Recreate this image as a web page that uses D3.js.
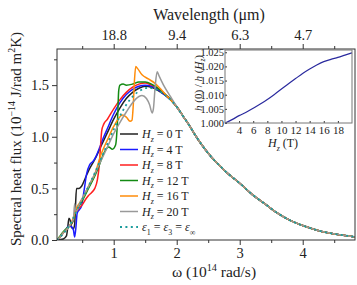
<!DOCTYPE html>
<html>
<head>
<meta charset="utf-8">
<script src="https://cdn.jsdelivr.net/npm/d3@7"></script>
<style>
body { margin: 0; background: #fff; }
svg { display: block; font-family: "Liberation Serif", "Times New Roman", Times, "DejaVu Serif", serif; }
text { fill: #222; white-space: pre; }
</style>
</head>
<body>
<div id="chart"></div>
<script>
// ---- data ----
// omega in 1e14 rad/s, flux in 1e-14 J/rad m^2 K
// shared tail, all curves coincide above omega ~2
const tailOmega = [2.0, 2.1, 2.2, 2.3, 2.4, 2.5, 2.6, 2.7, 2.8, 2.9, 3.0, 3.2, 3.4, 3.6, 3.8, 4.0, 4.2, 4.4, 4.6, 4.83];
const tailFlux  = [1.29, 1.20, 1.11, 1.01, 0.92, 0.84, 0.77, 0.71, 0.65, 0.60, 0.55, 0.44, 0.35, 0.26, 0.19, 0.14, 0.10, 0.07, 0.05, 0.03];

const omega0T = [0.10, 0.20, 0.25, 0.27, 0.29, 0.31, 0.33, 0.36, 0.38, 0.395, 0.41, 0.45, 0.49, 0.55, 0.60, 0.70, 0.80, 0.90, 1.00, 1.10, 1.20, 1.30, 1.40, 1.50, 1.60, 1.70, 1.80, 1.90];
const flux0T  = [0.00, 0.01, 0.04, 0.12, 0.21, 0.19, 0.12, 0.11, 0.15, 0.35, 0.50, 0.50, 0.52, 0.60, 0.67, 0.78, 0.91, 1.04, 1.17, 1.28, 1.37, 1.43, 1.47, 1.49, 1.48, 1.45, 1.41, 1.36];

const omega4T = [0.10, 0.15, 0.20, 0.25, 0.29, 0.33, 0.36, 0.38, 0.40, 0.42, 0.45, 0.49, 0.53, 0.57, 0.62, 0.67, 0.72, 0.78, 0.83, 0.90, 1.00, 1.10, 1.20, 1.30, 1.40, 1.50, 1.60, 1.70, 1.80, 1.90];
const flux4T  = [0.00, 0.03, 0.07, 0.11, 0.14, 0.13, 0.10, 0.03, 0.12, 0.26, 0.29, 0.33, 0.48, 0.64, 0.73, 0.76, 0.81, 0.90, 0.98, 1.08, 1.22, 1.33, 1.41, 1.46, 1.49, 1.50, 1.49, 1.46, 1.41, 1.36];

const omega8T = [0.10, 0.15, 0.20, 0.25, 0.30, 0.34, 0.37, 0.39, 0.41, 0.45, 0.50, 0.55, 0.60, 0.65, 0.70, 0.74, 0.77, 0.79, 0.81, 0.84, 0.90, 1.00, 1.10, 1.20, 1.30, 1.40, 1.50, 1.60, 1.70, 1.80, 1.90];
const flux8T  = [0.00, 0.03, 0.07, 0.10, 0.14, 0.16, 0.22, 0.30, 0.28, 0.31, 0.34, 0.39, 0.43, 0.46, 0.50, 0.58, 0.72, 0.90, 1.06, 1.12, 1.17, 1.27, 1.36, 1.43, 1.48, 1.51, 1.52, 1.50, 1.47, 1.42, 1.36];

const omega12T = [0.10, 0.15, 0.20, 0.25, 0.30, 0.35, 0.38, 0.40, 0.45, 0.50, 0.60, 0.70, 0.78, 0.85, 0.92, 0.98, 1.03, 1.06, 1.08, 1.10, 1.15, 1.20, 1.30, 1.40, 1.50, 1.60, 1.70, 1.80, 1.90];
const flux12T  = [0.00, 0.04, 0.08, 0.11, 0.14, 0.18, 0.24, 0.28, 0.33, 0.38, 0.50, 0.62, 0.74, 0.85, 0.90, 0.88, 0.92, 1.15, 1.45, 1.50, 1.51, 1.50, 1.51, 1.53, 1.53, 1.51, 1.47, 1.42, 1.36];

const omega16T = [0.10, 0.15, 0.20, 0.25, 0.30, 0.35, 0.38, 0.40, 0.45, 0.50, 0.60, 0.70, 0.80, 0.90, 1.00, 1.08, 1.14, 1.20, 1.26, 1.29, 1.31, 1.33, 1.35, 1.38, 1.45, 1.55, 1.65, 1.75, 1.85, 1.90];
const flux16T  = [0.00, 0.03, 0.07, 0.10, 0.14, 0.20, 0.26, 0.30, 0.35, 0.40, 0.52, 0.64, 0.83, 0.97, 1.10, 1.18, 1.21, 1.19, 1.15, 1.16, 1.30, 1.55, 1.68, 1.66, 1.60, 1.56, 1.52, 1.46, 1.39, 1.36];

const omega20T = [0.10, 0.15, 0.20, 0.25, 0.30, 0.34, 0.36, 0.38, 0.39, 0.41, 0.45, 0.50, 0.60, 0.70, 0.80, 0.90, 1.00, 1.10, 1.20, 1.30, 1.40, 1.45, 1.52, 1.57, 1.61, 1.63, 1.66, 1.69, 1.72, 1.80, 1.90];
const flux20T  = [0.00, 0.03, 0.07, 0.10, 0.14, 0.18, 0.20, 0.35, 0.30, 0.28, 0.34, 0.40, 0.52, 0.64, 0.77, 0.90, 1.03, 1.14, 1.24, 1.33, 1.39, 1.40, 1.37, 1.31, 1.23, 1.27, 1.50, 1.63, 1.59, 1.49, 1.39];

const omegaInf = [0.10, 0.15, 0.20, 0.25, 0.30, 0.35, 0.40, 0.50, 0.60, 0.70, 0.80, 0.90, 1.00, 1.10, 1.20, 1.30, 1.40, 1.50, 1.55, 1.60, 1.70, 1.80, 1.90];
const fluxInf  = [0.00, 0.03, 0.06, 0.10, 0.14, 0.20, 0.27, 0.39, 0.52, 0.65, 0.79, 0.93, 1.07, 1.20, 1.31, 1.39, 1.44, 1.47, 1.475, 1.47, 1.45, 1.41, 1.36];

const fieldLabels = ["0", "4", "8", "12", "16", "20"];

// axis ticks
const omegaTicks = [1, 2, 3, 4];
const omegaMinor = [0.5, 1.5, 2.5, 3.5, 4.5];
const wavelengthLabels = ["18.8", "9.4", "6.3", "4.7"];
const fluxTicks = [0, 0.5, 1.0, 1.5];
const fluxMinor = [0.25, 0.75, 1.25, 1.75];

// inset: h(0)/h(Hz) vs Hz
const insetField = [2, 3, 4, 5, 6, 7, 8, 9, 10, 11, 12, 13, 14, 15, 16, 17, 18, 19, 20];
const insetRatio = [1.0000, 1.0012, 1.0026, 1.0038, 1.0052, 1.0067, 1.0083, 1.0101, 1.0120, 1.0139, 1.0157, 1.0175, 1.0191, 1.0205, 1.0217, 1.0225, 1.0232, 1.0240, 1.0248];
const insetXTicks = [4, 6, 8, 10, 12, 14, 16, 18];
const insetYTicks = [1.000, 1.005, 1.010, 1.015, 1.020, 1.025];

// ---- layout ----
const serif = "'Liberation Serif', 'Times New Roman', Times, 'DejaVu Serif', serif";
const svgWidth = 357,
    svgHeight = 285,
    margin = { top: 49, right: 2, bottom: 45, left: 57 },
    width = svgWidth - margin.left - margin.right,
    height = svgHeight - margin.top - margin.bottom;

const svg = d3.select("#chart").append("svg")
    .attr("width", svgWidth)
    .attr("height", svgHeight)
    .attr("font-family", serif);

const g = svg.append("g")
    .attr("transform", `translate(${margin.left},${margin.top})`);

const x = d3.scaleLinear().domain([0.1, 4.83]).range([0, width]);
const y = d3.scaleLinear().domain([0, 1.85]).range([height, 0]);

// writes text with italic / sub / superscript parts
function rich(sel, parts, size) {
    let shift = 0;
    sel.attr("font-family", serif);
    parts.forEach((p) => {
        let target = p.sub ? size * 0.3 : (p.sup ? -size * 0.4 : 0);
        sel.append("tspan")
            .attr("dy", target - shift)
            .attr("font-size", (p.sub || p.sup) ? size * 0.66 : size)
            .attr("font-style", p.i ? "italic" : null)
            .text(p.t);
        shift = target;
    });
}

function styleAxis(sel, size) {
    sel.attr("font-family", serif).attr("font-size", size);
    sel.select(".domain").remove();
    sel.selectAll("line").attr("stroke", "#333");
    sel.selectAll("text")
        .attr("font-family", serif)
        .attr("font-size", size)
        .attr("fill", "#222");
}

// axes
const xAxis = g.append("g")
    .attr("transform", `translate(0,${height})`)
    .call(d3.axisBottom(x).tickValues(omegaTicks).tickFormat(d3.format("d")).tickSize(5).tickPadding(3));
styleAxis(xAxis, 14.5);
g.append("g")
    .attr("transform", `translate(0,${height})`)
    .call(d3.axisBottom(x).tickValues(omegaMinor).tickFormat("").tickSize(3))
    .call(styleAxis, 10);

const topAxis = g.append("g")
    .call(d3.axisTop(x).tickValues(omegaTicks).tickFormat((d, i) => wavelengthLabels[i]).tickSize(5).tickPadding(4));
styleAxis(topAxis, 14.5);
g.append("g")
    .call(d3.axisTop(x).tickValues(omegaMinor).tickFormat("").tickSize(3))
    .call(styleAxis, 10);

const yAxis = g.append("g")
    .call(d3.axisLeft(y).tickValues(fluxTicks).tickFormat(d3.format(".1f")).tickSize(5).tickPadding(3));
styleAxis(yAxis, 14.5);
g.append("g")
    .call(d3.axisLeft(y).tickValues(fluxMinor).tickFormat("").tickSize(3))
    .call(styleAxis, 10);

// axis titles
rich(svg.append("text")
    .attr("x", 209).attr("y", 20)
    .attr("text-anchor", "middle"),
    [{ t: "Wavelength (μm)" }], 16);

rich(svg.append("text")
    .attr("x", 214).attr("y", 277)
    .attr("text-anchor", "middle"),
    [{ t: "ω (10" }, { t: "14", sup: 1 }, { t: " rad/s)" }], 15.5);

rich(svg.append("text")
    .attr("transform", "translate(21,139) rotate(-90)")
    .attr("text-anchor", "middle"),
    [{ t: "Spectral heat flux (10" }, { t: "−14", sup: 1 }, { t: " J/rad m" }, { t: "2", sup: 1 }, { t: "K)" }], 15);

// curves
svg.append("defs").append("clipPath").attr("id", "plotClip")
    .append("rect").attr("width", width).attr("height", height);

const series = [
    { o: omega0T, f: flux0T, color: "#222222" },
    { o: omega4T, f: flux4T, color: "#1a1aff" },
    { o: omega8T, f: flux8T, color: "#ff1f1f" },
    { o: omega12T, f: flux12T, color: "#138a13" },
    { o: omega16T, f: flux16T, color: "#ff8c0a" },
    { o: omega20T, f: flux20T, color: "#999999" }
];
series.forEach((s, i) => { s.label = fieldLabels[i]; });
const baseline = { o: omegaInf, f: fluxInf, color: "#1b9c9c", dash: "2,3.4" };

const line = d3.line()
    .x((d) => x(d[0]))
    .y((d) => y(d[1]))
    .curve(d3.curveMonotoneX);

const curves = g.append("g").attr("clip-path", "url(#plotClip)");
series.concat([baseline]).forEach((s) => {
    let pts = s.o.concat(tailOmega).map((o, i) => [o, s.f.concat(tailFlux)[i]]);
    curves.append("path")
        .datum(pts)
        .attr("fill", "none")
        .attr("stroke", s.color)
        .attr("stroke-width", s.dash ? 1.8 : 1.5)
        .attr("stroke-dasharray", s.dash || null)
        .attr("d", line);
});

// frame
g.append("rect")
    .attr("width", width)
    .attr("height", height)
    .attr("fill", "none")
    .attr("stroke", "#333")
    .attr("stroke-width", 1);

// legend
const legend = g.append("g").attr("transform", "translate(63,85)");
series.concat([baseline]).forEach((s, i) => {
    let row = legend.append("g").attr("transform", `translate(0,${i * 15.5})`);
    row.append("line")
        .attr("x1", 0).attr("x2", 18)
        .attr("stroke", s.color)
        .attr("stroke-width", s.dash ? 1.8 : 1.5)
        .attr("stroke-dasharray", s.dash || null);
    let t = row.append("text").attr("x", 22).attr("y", 4);
    if (s.dash) {
        rich(t, [{ t: "ε", i: 1 }, { t: "1", sub: 1 }, { t: " = " }, { t: "ε", i: 1 }, { t: "3", sub: 1 },
            { t: " = " }, { t: "ε", i: 1 }, { t: "∞", sub: 1 }], 12);
    } else {
        rich(t, [{ t: "H", i: 1 }, { t: "z", i: 1, sub: 1 }, { t: ` = ${s.label} T` }], 12);
    }
});

// inset
const inset = { left: 225, top: 50, w: 127, h: 73 };
const ix = d3.scaleLinear().domain([2, 20]).range([0, inset.w]);
const iy = d3.scaleLinear().domain([1.0, 1.0258]).range([inset.h, 0]);
const ig = svg.append("g").attr("transform", `translate(${inset.left},${inset.top})`);

ig.append("rect")
    .attr("width", inset.w).attr("height", inset.h)
    .attr("fill", "#fff");

const ixAxis = ig.append("g")
    .attr("transform", `translate(0,${inset.h})`)
    .call(d3.axisBottom(ix).tickValues(insetXTicks).tickSize(-2).tickPadding(3));
styleAxis(ixAxis, 11);
const iyAxis = ig.append("g")
    .call(d3.axisLeft(iy).tickValues(insetYTicks).tickFormat(d3.format(".3f")).tickSize(-2).tickPadding(1));
styleAxis(iyAxis, 10.5);

ig.append("path")
    .datum(insetField.map((h, i) => [h, insetRatio[i]]))
    .attr("fill", "none")
    .attr("stroke", "#2a2a9e")
    .attr("stroke-width", 1.2)
    .attr("d", d3.line().x((d) => ix(d[0])).y((d) => iy(d[1])).curve(d3.curveMonotoneX));

ig.append("rect")
    .attr("width", inset.w).attr("height", inset.h)
    .attr("fill", "none")
    .attr("stroke", "#777")
    .attr("stroke-width", 1);

rich(ig.append("text")
    .attr("x", 58).attr("y", 97)
    .attr("text-anchor", "middle"),
    [{ t: "H", i: 1 }, { t: "z", i: 1, sub: 1 }, { t: " (T)" }], 12);

rich(ig.append("text")
    .attr("transform", "translate(-23,33) rotate(-90)")
    .attr("text-anchor", "middle"),
    [{ t: "h", i: 1 }, { t: " (0) / " }, { t: "h", i: 1 }, { t: " (" }, { t: "H", i: 1 }, { t: "z", i: 1, sub: 1 }, { t: ")" }], 11);
</script>
</body>
</html>
